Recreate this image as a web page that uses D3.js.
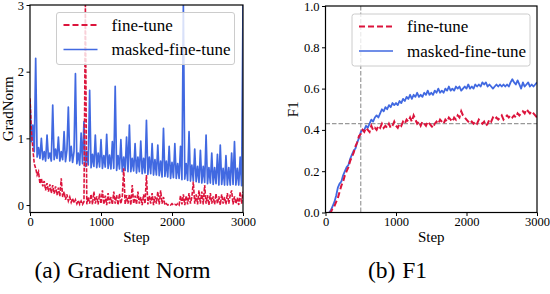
<!DOCTYPE html>
<html>
<head>
<meta charset="utf-8">
<script src="https://cdn.jsdelivr.net/npm/d3@7"></script>
<style>
  body { margin: 0; background: #fff; }
  svg text { font-family: 'Liberation Serif', 'Times New Roman', serif; fill: #000; }
  .axis text { font-size: 12.5px; }
  .axis line { stroke: #000; stroke-width: 1; }
  .axis path { display: none; }
</style>
</head>
<body>
<script>
// grad norm logged every 20 steps, 0..3000
const gradInterval = 20;
const gradMasked = [
  1.58, 0.95, 1.2, 0.8, 2.2, 0.72, 0.86, 0.7, 1.0, 0.68,
  0.8, 0.66, 1.05, 0.7, 0.78, 0.66, 1.5, 0.68, 0.84, 0.7,
  1.02, 0.66, 0.8, 0.68, 1.1, 0.65, 0.82, 1.47, 0.66, 0.88,
  0.64, 0.8, 1.97, 0.62, 0.78, 0.6, 1.08, 0.62, 1.25, 0.58,
  0.8, 0.6, 1.72, 0.56, 0.76, 0.58, 1.05, 0.56, 0.78, 0.57,
  0.98, 0.55, 0.74, 0.57, 1.06, 0.55, 0.75, 0.54, 0.95, 0.55,
  1.78, 0.52, 0.74, 0.54, 0.98, 0.5, 0.72, 0.52, 1.02, 0.5,
  1.2, 0.5, 0.7, 0.51, 0.92, 0.48, 0.72, 0.5, 0.96, 0.47,
  0.7, 0.48, 1.27, 0.46, 0.72, 0.47, 0.92, 0.45, 0.68, 0.45,
  0.9, 0.44, 0.66, 0.42, 1.15, 0.43, 0.66, 0.42, 0.88, 0.4,
  0.64, 0.41, 0.92, 0.4, 0.62, 0.4, 0.88, 0.38, 3.0, 0.39,
  0.62, 0.37, 1.1, 0.36, 0.6, 0.36, 0.84, 0.35, 0.58, 0.34,
  0.82, 0.33, 0.58, 0.34, 1.05, 0.32, 0.56, 0.33, 0.78, 0.31,
  0.56, 0.32, 0.76, 0.3, 0.9, 0.31, 0.55, 0.3, 0.74, 0.3,
  0.56, 0.3, 0.78, 0.31, 0.95, 0.3, 0.55, 0.3, 0.72, 0.29,
  3.0
];
const gradFineTune = [
  1.6, 1.1, 0.85, 0.62, 0.55, 0.45, 0.5, 0.32, 0.4, 0.28,
  0.36, 0.22, 0.33, 0.2, 0.31, 0.18, 0.3, 0.17, 0.28, 0.15,
  0.26, 0.13, 0.4, 0.12, 0.2, 0.08, 0.16, 0.06, 0.12, 0.04,
  0.1, 0.03, 0.08, 0.02, 0.07, 0.01, 0.06, 0.01, 0.05, 3.0,
  0.01, 0.12, 0.02, 0.16, 0.01, 0.2, 0.02, 0.13, 0.01, 0.17,
  0.02, 0.22, 0.01, 0.14, 0.0, 0.18, 0.02, 0.12, 0.01, 0.2,
  0.02, 0.15, 0.0, 0.17, 0.02, 0.13, 0.55, 0.01, 0.15, 0.02,
  0.16, 0.0, 0.3, 0.02, 0.14, 0.01, 0.2, 0.02, 0.12, 0.0,
  0.16, 0.02, 0.45, 0.01, 0.14, 0.02, 0.18, 0.0, 0.13, 0.02,
  0.2, 0.01, 0.22, 0.02, 0.12, 0.0, 0.02, 0.0, 0.01, 0.0,
  0.02, 0.0, 0.01, 0.0, 0.02, 0.0, 0.14, 0.01, 0.16, 0.0,
  0.14, 0.01, 0.18, 0.02, 0.12, 0.35, 0.02, 0.16, 0.01, 0.22,
  0.02, 0.2, 0.01, 0.3, 0.02, 0.15, 0.0, 0.18, 0.02, 0.13,
  0.01, 0.17, 0.02, 0.13, 0.0, 0.16, 0.02, 0.12, 0.01, 0.18,
  0.02, 0.15, 0.22, 0.01, 0.13, 0.02, 0.11, 0.0, 0.2, 0.02,
  0.2
];

// F1 evaluated every 25 steps, 50..3000
const f1Start = 50;
const f1Interval = 25;
const f1Masked = [
  0.0, 0.01, 0.03, 0.05, 0.08, 0.12, 0.14, 0.15,
  0.18, 0.2, 0.22, 0.23, 0.26, 0.28, 0.3, 0.31,
  0.34, 0.36, 0.39, 0.4, 0.4, 0.42, 0.41, 0.43,
  0.45, 0.44, 0.46, 0.47, 0.46, 0.48, 0.5, 0.49,
  0.51, 0.5, 0.52, 0.51, 0.53, 0.52, 0.53, 0.52,
  0.54, 0.53, 0.55, 0.54, 0.56, 0.55, 0.57, 0.55,
  0.57, 0.56, 0.58, 0.56, 0.57, 0.56, 0.58, 0.57,
  0.59, 0.57, 0.58, 0.57, 0.59, 0.58, 0.6, 0.58,
  0.59, 0.58, 0.6, 0.59, 0.61, 0.59, 0.6, 0.59,
  0.61, 0.6, 0.61, 0.59, 0.6, 0.61, 0.6, 0.62,
  0.6, 0.61, 0.6, 0.62, 0.61, 0.62, 0.61, 0.63,
  0.62, 0.63, 0.61, 0.62, 0.61, 0.6, 0.61, 0.62,
  0.61, 0.62, 0.61, 0.62, 0.61, 0.62, 0.61, 0.63,
  0.645, 0.63, 0.62, 0.64, 0.62, 0.6, 0.63, 0.61,
  0.62, 0.63, 0.61, 0.62, 0.61, 0.62, 0.63
];
const f1FineTune = [
  0.0, 0.0, 0.02, 0.03, 0.05, 0.07, 0.1, 0.13,
  0.15, 0.18, 0.2, 0.22, 0.25, 0.27, 0.29, 0.32,
  0.34, 0.37, 0.38, 0.4, 0.39, 0.41, 0.4, 0.39,
  0.42, 0.4, 0.41, 0.4, 0.42, 0.41, 0.43, 0.41,
  0.42, 0.41, 0.43, 0.41, 0.42, 0.44, 0.42, 0.41,
  0.43, 0.42, 0.44, 0.43, 0.45, 0.44, 0.46, 0.44,
  0.47, 0.45, 0.43, 0.44, 0.42, 0.44, 0.43, 0.42,
  0.44, 0.43, 0.42, 0.41, 0.43, 0.44, 0.43, 0.45,
  0.44, 0.43, 0.45, 0.44, 0.46, 0.45, 0.44, 0.46,
  0.45, 0.47, 0.46, 0.49, 0.47, 0.46, 0.45, 0.44,
  0.43, 0.44, 0.43, 0.44, 0.43, 0.45, 0.44, 0.43,
  0.44, 0.42, 0.43, 0.45, 0.44, 0.46, 0.45, 0.46,
  0.45, 0.46, 0.47, 0.45, 0.46, 0.47, 0.46, 0.47,
  0.46, 0.47, 0.46, 0.48, 0.47, 0.48, 0.49, 0.48,
  0.5, 0.49, 0.48, 0.49, 0.48, 0.47, 0.46
];

const stepTicks = [0, 1000, 2000, 3000];
const gradTicks = [0, 1, 2, 3];
const f1Ticks = [0, 0.2, 0.4, 0.6, 0.8, 1.0];
const refStep = 500;
const refF1 = 0.43;
const seriesNames = ['fine-tune', 'masked-fine-tune'];

const red = '#dc143c';
const blue = '#4169e1';

const svg = d3.select('body').append('svg')
  .attr('width', 550)
  .attr('height', 294);

const drawPanel = (opt) => {
  const x = d3.scaleLinear().domain([0, 3000]).range([opt.left, opt.right]);
  const y = d3.scaleLinear().domain(opt.yDomain).range([opt.bottom, opt.top]);

  const g = svg.append('g');

  g.append('clipPath')
    .attr('id', opt.id)
    .append('rect')
      .attr('x', opt.left)
      .attr('y', opt.top)
      .attr('width', opt.right - opt.left)
      .attr('height', opt.bottom - opt.top);

  const plot = g.append('g').attr('clip-path', `url(#${opt.id})`);

  if (opt.refLines) {
    plot.append('line')
      .attr('x1', x(refStep)).attr('x2', x(refStep))
      .attr('y1', opt.top).attr('y2', opt.bottom)
      .attr('stroke', '#999').attr('stroke-width', 1.2)
      .attr('stroke-dasharray', '4.5,2');
    plot.append('line')
      .attr('x1', opt.left).attr('x2', opt.right)
      .attr('y1', y(refF1)).attr('y2', y(refF1))
      .attr('stroke', '#999').attr('stroke-width', 1.2)
      .attr('stroke-dasharray', '4.5,2');
  }

  const line = d3.line()
    .x(d => x(d[0]))
    .y(d => y(d[1]));

  plot.append('path')
    .datum(opt.masked)
    .attr('fill', 'none')
    .attr('stroke', blue)
    .attr('stroke-width', opt.blueWidth)
    .attr('stroke-linejoin', 'round')
    .attr('d', line);

  plot.append('path')
    .datum(opt.fineTune)
    .attr('fill', 'none')
    .attr('stroke', red)
    .attr('stroke-width', opt.redWidth)
    .attr('stroke-dasharray', opt.redDash)
    .attr('d', line);

  // legend
  const lg = g.append('g').attr('transform', `translate(${opt.legend[0]},${opt.legend[1]})`);
  lg.append('rect')
    .attr('width', 178)
    .attr('height', 52)
    .attr('rx', 2.5)
    .attr('fill', '#fff')
    .attr('fill-opacity', 0.8)
    .attr('stroke', '#ccc')
    .attr('stroke-width', 1);
  seriesNames.forEach((name, i) => {
    const ly = 12.5 + i * 24.5;
    lg.append('line')
      .attr('x1', 7).attr('x2', 41)
      .attr('y1', ly).attr('y2', ly)
      .attr('stroke', i ? blue : red)
      .attr('stroke-width', i ? 1.5 : 1.8)
      .attr('stroke-dasharray', i ? null : '6,3');
    lg.append('text')
      .attr('x', 55)
      .attr('y', ly + 5.5)
      .attr('font-size', 17)
      .text(name);
  });

  // frame
  g.append('rect')
    .attr('x', opt.left)
    .attr('y', opt.top)
    .attr('width', opt.right - opt.left)
    .attr('height', opt.bottom - opt.top)
    .attr('fill', 'none')
    .attr('stroke', '#000')
    .attr('stroke-width', 1.2);

  g.append('g')
    .attr('class', 'axis')
    .attr('transform', `translate(0,${opt.bottom})`)
    .call(d3.axisBottom(x).tickValues(stepTicks).tickSize(3.5).tickPadding(1.5).tickFormat(d3.format('d')));

  g.append('g')
    .attr('class', 'axis')
    .attr('transform', `translate(${opt.left},0)`)
    .call(d3.axisLeft(y).tickValues(opt.yTicks).tickSize(3.5).tickPadding(2.5).tickFormat(opt.yFormat));

  g.append('text')
    .attr('x', (opt.left + opt.right) / 2)
    .attr('y', 242)
    .attr('text-anchor', 'middle')
    .attr('font-size', 15)
    .text('Step');

  g.append('text')
    .attr('transform', `translate(${opt.labelX},${(opt.top + opt.bottom) / 2}) rotate(-90)`)
    .attr('text-anchor', 'middle')
    .attr('font-size', 15)
    .text(opt.yLabel);

  const cap = g.append('text')
    .attr('x', opt.capX)
    .attr('y', 278)
    .attr('text-anchor', 'middle')
    .attr('font-size', 23.5);
  cap.append('tspan').text(opt.caption[0]);
  cap.append('tspan').attr('dx', 7).text(opt.caption[1]);
};

drawPanel({
  id: 'clip-grad',
  left: 30, right: 243, top: 5, bottom: 212.5,
  yDomain: [-0.112, 3],
  yTicks: gradTicks,
  yFormat: d3.format('d'),
  yLabel: 'GradNorm',
  labelX: 13,
  masked: gradMasked.map((v, i) => [i * gradInterval, v]),
  fineTune: gradFineTune.map((v, i) => [i * gradInterval, v]),
  blueWidth: 1.7,
  redWidth: 1.6,
  redDash: '4,1.5',
  legend: [56.5, 12.5],
  caption: ['(a)', 'Gradient Norm'],
  capX: 122.5
});

drawPanel({
  id: 'clip-f1',
  left: 325.5, right: 537, top: 6, bottom: 212.5,
  yDomain: [0, 1],
  yTicks: f1Ticks,
  yFormat: d3.format('.1f'),
  yLabel: 'F1',
  labelX: 298,
  refLines: true,
  masked: f1Masked.map((v, i) => [f1Start + i * f1Interval, v]),
  fineTune: f1FineTune.map((v, i) => [f1Start + i * f1Interval, v]),
  blueWidth: 1.8,
  redWidth: 2,
  redDash: '6,3',
  legend: [352, 14],
  caption: ['(b)', 'F1'],
  capX: 397.5
});
</script>
</body>
</html>
